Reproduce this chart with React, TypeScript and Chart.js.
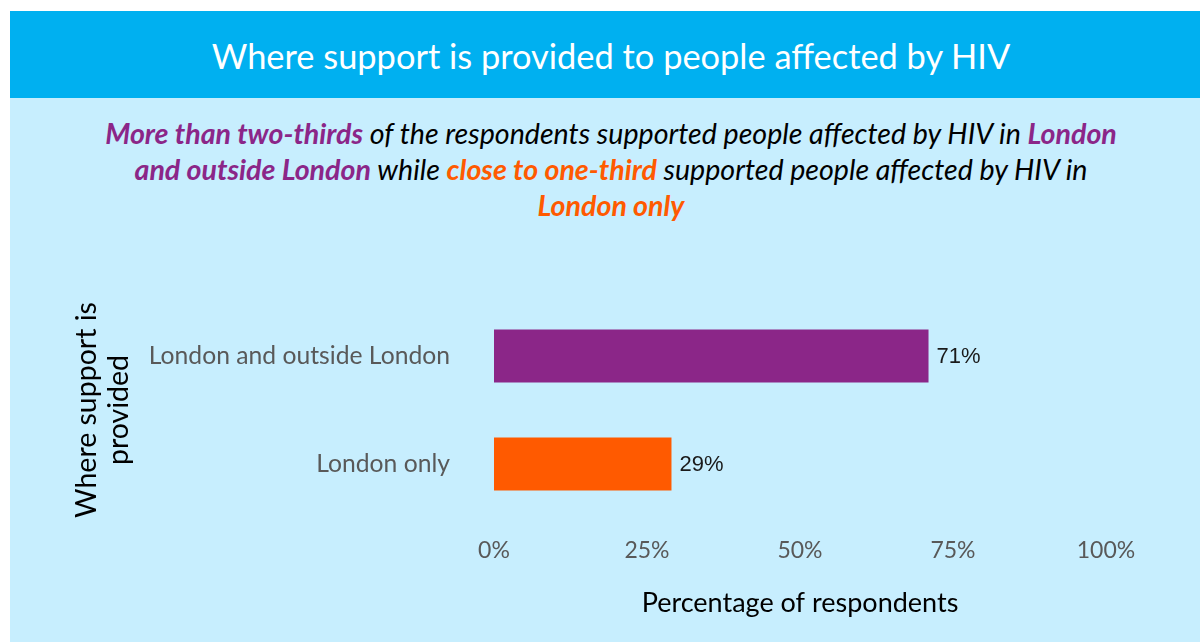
import React, { useEffect, useRef } from 'react';
import { Chart, registerables } from 'chart.js';

Chart.register(...registerables);

const categories = ['London and outside London', 'London only'];
const values = [71, 29];
const barColors = ['#8B2688', '#FF5A00'];
const xMin = 0;
const xMax = 100;
const xStep = 25;

const titleText = 'Where support is provided to people affected by HIV';
const yAxisTitle = ['Where support is', 'provided'];
const xAxisTitle = 'Percentage of respondents';

const FONT = 'Lato, "Open Sans", sans-serif';
const PURPLE = '#8B2688';
const ORANGE = '#FF5A00';

const valueLabelPlugin = {
  id: 'valueLabels',
  afterDatasetsDraw(chart: any) {
    const ctx = chart.ctx;
    const meta = chart.getDatasetMeta(0);
    meta.data.forEach((bar: any, i: number) => {
      ctx.save();
      ctx.font = '22px "Liberation Sans", Arial, sans-serif';
      ctx.fillStyle = '#1a1a1a';
      ctx.textAlign = 'left';
      ctx.textBaseline = 'middle';
      ctx.fillText(values[i] + '%', bar.x + 8, bar.y + 1);
      ctx.restore();
    });
  },
};

function BarChart() {
  const ref = useRef<HTMLCanvasElement | null>(null);
  useEffect(() => {
    if (!ref.current) return;
    const chart = new Chart(ref.current, {
      type: 'bar',
      data: {
        labels: categories,
        datasets: [
          {
            data: values,
            backgroundColor: barColors,
            borderWidth: 0,
            categoryPercentage: 0.49,
            barPercentage: 1,
          },
        ],
      },
      options: {
        indexAxis: 'y',
        animation: false,
        responsive: false,
        maintainAspectRatio: false,
        layout: { padding: { top: 72, right: 94, left: 0, bottom: 0 } },
        plugins: {
          legend: { display: false },
          tooltip: { enabled: false },
        },
        scales: {
          x: {
            min: xMin,
            max: xMax,
            ticks: {
              stepSize: xStep,
              callback: (v: any) => v + '%',
              color: '#595959',
              font: { family: FONT, size: 23 },
              padding: 19,
            },
            grid: { display: false, drawTicks: false },
            border: { display: false },
            title: {
              display: true,
              text: xAxisTitle,
              color: '#000000',
              font: { family: FONT, size: 27 },
              padding: { top: 0, bottom: 23 },
            },
            afterFit(scale: any) {
              scale.height = 124;
            },
          },
          y: {
            ticks: {
              color: '#595959',
              font: { family: FONT, size: 24.7 },
              padding: 44,
            },
            grid: { display: false, drawTicks: false },
            border: { display: false },
            title: {
              display: true,
              text: yAxisTitle,
              color: '#000000',
              font: { family: FONT, size: 28.5, lineHeight: 1.13 },
              padding: { top: 61, bottom: 0 },
            },
            afterFit(scale: any) {
              scale.width = 484;
            },
          },
        },
      },
      plugins: [valueLabelPlugin],
    } as any);
    return () => chart.destroy();
  }, []);
  return <canvas ref={ref} width={1190} height={412} style={{ position: 'absolute', left: 10, top: 230, width: 1190, height: 412 }} />;
}

export default function App() {
  return (
    <div style={{ position: 'absolute', left: 0, top: 0, width: 1200, height: 642, background: '#ffffff', overflow: 'hidden', fontFamily: FONT }}>
      <div style={{ position: 'absolute', left: 10, top: 11, width: 1190, height: 87, background: '#00B0F0' }} />
      <div style={{ position: 'absolute', left: 10, top: 98, width: 1190, height: 544, background: '#C7EEFE' }} />
      <div style={{ position: 'absolute', left: 10, top: 35, width: 1202, textAlign: 'center', color: '#ffffff', fontSize: 34.4, lineHeight: '42px' }}>
        {titleText}
      </div>
      <div style={{ position: 'absolute', left: 10, top: 115, width: 1202, textAlign: 'center', color: '#000000', fontSize: 28.6, lineHeight: '36px', fontStyle: 'italic' }}>
        <span style={{ color: PURPLE, fontWeight: 700 }}>More than two-thirds</span> of the respondents supported people affected by HIV in{' '}
        <span style={{ color: PURPLE, fontWeight: 700 }}>London</span>
        <br />
        <span style={{ color: PURPLE, fontWeight: 700 }}>and outside London</span> while{' '}
        <span style={{ color: ORANGE, fontWeight: 700 }}>close to one-third</span> supported people affected by HIV in
        <br />
        <span style={{ color: ORANGE, fontWeight: 700 }}>London only</span>
      </div>
      <BarChart />
    </div>
  );
}
